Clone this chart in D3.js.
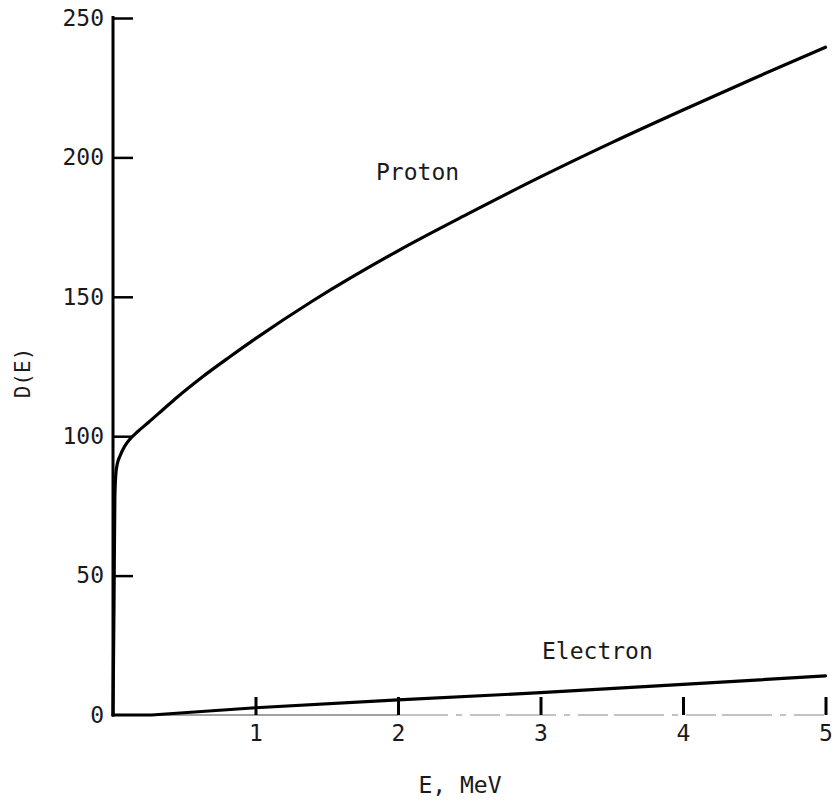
<!DOCTYPE html>
<html>
<head>
<meta charset="utf-8">
<script src="https://cdn.jsdelivr.net/npm/d3@7"></script>
<style>
  html, body { margin: 0; padding: 0; background: #fff; }
  svg text { font-family: "DejaVu Sans Mono", monospace; fill: #1a1a1a; }
</style>
</head>
<body>
<svg id="chart" width="835" height="803"></svg>
<script>
// ---- data ----
const protonE = [0, 0.007, 0.013, 0.02, 0.03, 0.05, 0.08, 0.12, 0.17, 0.25, 0.35, 0.45, 0.62, 0.82, 1.0, 1.4, 2.0, 2.5, 3.0, 3.5, 4.0, 4.5, 5.0];
const protonD = [0, 40, 78, 86.5, 90, 93, 96.2, 99, 101.5, 105, 109.5, 114, 121, 128.5, 135, 148.5, 166.5, 180, 193, 205.3, 217, 228.4, 239.5];
const electronE = [0, 0.27, 1, 2, 3, 4, 5];
const electronD = [0, 0, 2.6, 5.4, 8, 11, 14];
const xTicks = [1, 2, 3, 4, 5];
const yTicks = [0, 50, 100, 150, 200, 250];
const seriesLabels = ["Proton", "Electron"];
const xTitle = "E, MeV";
const yTitle = "D(E)";

// ---- layout ----
const svg = d3.select("#chart");
const x = d3.scaleLinear().domain([0, 5]).range([113, 825.5]);
const y = d3.scaleLinear().domain([0, 250]).range([715, 18]);

// x baseline (thin, faint)
svg.append("line")
  .attr("x1", x(0)).attr("x2", x(2))
  .attr("y1", y(0)).attr("y2", y(0))
  .attr("stroke", "#444").attr("stroke-width", 1.2);
svg.append("line")
  .attr("x1", x(2)).attr("x2", x(5))
  .attr("y1", y(0)).attr("y2", y(0))
  .attr("stroke", "#888").attr("stroke-width", 1.2)
  .attr("stroke-dasharray", "50,8,6,8,30,6");

// x axis ticks (pointing up, inside)
const xAxis = svg.append("g")
  .attr("transform", `translate(0,${y(0)})`)
  .call(d3.axisBottom(x).tickValues(xTicks).tickSize(-18).tickPadding(10).tickFormat(d3.format("d")));
xAxis.select(".domain").remove();
xAxis.selectAll(".tick line").attr("stroke", "#000").attr("stroke-width", 3);
xAxis.selectAll(".tick text").attr("font-size", 23).style("font-family", "DejaVu Sans Mono");

// y axis
const yAxis = svg.append("g")
  .attr("transform", `translate(${x(0)},0)`)
  .call(d3.axisLeft(y).tickValues(yTicks).tickSize(-20).tickPadding(9).tickFormat(d3.format("d")));
yAxis.select(".domain").remove();
yAxis.selectAll(".tick line").attr("stroke", "#000").attr("stroke-width", 2.5)
  .filter(d => d === 0).remove();
yAxis.selectAll(".tick text").attr("font-size", 23).style("font-family", "DejaVu Sans Mono");

svg.append("line")
  .attr("x1", x(0)).attr("x2", x(0))
  .attr("y1", y(0) + 1.5).attr("y2", y(250) - 2)
  .attr("stroke", "#000").attr("stroke-width", 3);

// curves
const protonPts = protonE.map((e, i) => [e, protonD[i]]);
const electronPts = electronE.map((e, i) => [e, electronD[i]]);

svg.append("path").datum(protonPts)
  .attr("d", d3.line().x(d => x(d[0])).y(d => y(d[1])).curve(d3.curveMonotoneX))
  .attr("fill", "none").attr("stroke", "#000").attr("stroke-width", 3.2)
  .attr("stroke-linecap", "round").attr("stroke-linejoin", "round");

svg.append("path").datum(electronPts)
  .attr("d", d3.line().x(d => x(d[0])).y(d => y(d[1])).curve(d3.curveLinear))
  .attr("fill", "none").attr("stroke", "#000").attr("stroke-width", 3.2)
  .attr("stroke-linecap", "round");

// labels
svg.append("text").attr("x", 376).attr("y", 180).attr("font-size", 23).text(seriesLabels[0]);
svg.append("text").attr("x", 542).attr("y", 659).attr("font-size", 23).text(seriesLabels[1]);

svg.append("text").attr("x", 460).attr("y", 793).attr("text-anchor", "middle")
  .attr("font-size", 23).text(xTitle);
svg.append("text")
  .attr("transform", "translate(30,373) rotate(-90)")
  .attr("text-anchor", "middle").attr("font-size", 21).text(yTitle);
</script>
</body>
</html>
